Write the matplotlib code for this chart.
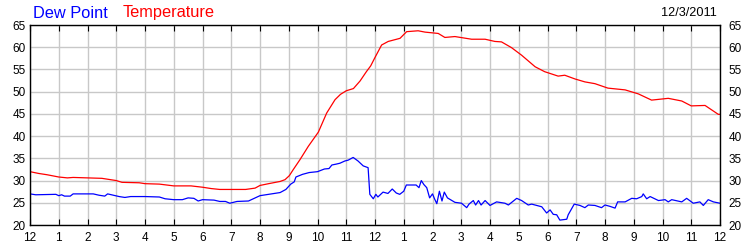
import matplotlib
matplotlib.use("Agg")
import matplotlib.pyplot as plt

plt.rcParams['font.family'] = ['Liberation Sans', 'DejaVu Sans']

# Temperature (hour of day, deg F)
temp_hours = [0, 0.3, 0.6, 1.0, 1.3, 1.5, 2.0, 2.5, 2.8, 3.0, 3.2, 3.8, 4.0, 4.5, 5.0, 5.6,
              6.0, 6.3, 6.6, 7.0, 7.5, 7.83, 8.0, 8.3, 8.7, 8.87, 9.02, 9.16, 9.39, 9.68,
              10.03, 10.32, 10.61, 10.8, 11.0, 11.25, 11.48, 11.7, 11.85, 12.0, 12.23,
              12.46, 12.87, 13.1, 13.5, 13.74, 14.2, 14.43, 14.78, 15.36, 15.83, 16.17,
              16.4, 16.75, 17.1, 17.57, 17.9, 18.37, 18.6, 18.96, 19.3, 19.65, 20.1, 20.7,
              21.16, 21.62, 22.2, 22.67, 23.0, 23.48, 23.71, 23.94, 24.0]
temp_values = [32.0, 31.6, 31.3, 30.8, 30.6, 30.7, 30.6, 30.5, 30.2, 30.0, 29.6, 29.5, 29.3,
               29.2, 28.8, 28.8, 28.5, 28.2, 28.0, 28.0, 28.0, 28.3, 28.9, 29.3, 29.8, 30.2,
               31.1, 32.5, 34.7, 37.7, 40.9, 45.2, 48.2, 49.4, 50.2, 50.7, 52.4, 54.5, 55.8,
               57.7, 60.5, 61.3, 62.0, 63.5, 63.7, 63.4, 63.1, 62.2, 62.4, 61.8, 61.8, 61.3,
               61.2, 59.9, 58.2, 55.6, 54.5, 53.5, 53.7, 52.85, 52.2, 51.8, 50.8, 50.4, 49.5,
               48.1, 48.5, 47.9, 46.8, 46.9, 45.9, 44.9, 44.9]

# Dew point (hour of day, deg F)
dew_hours = [0, 0.2, 0.9, 1.0, 1.1, 1.2, 1.4, 1.5, 2.0, 2.2, 2.4, 2.6, 2.7, 2.9, 3.1, 3.3,
             3.5, 4.0, 4.5, 4.7, 5.0, 5.3, 5.5, 5.7, 5.85, 6.0, 6.4, 6.6, 6.8, 6.95, 7.2,
             7.6, 7.83, 8.0, 8.4, 8.7, 8.9, 9.07, 9.19, 9.25, 9.48, 9.71, 10.0, 10.24,
             10.4, 10.5, 10.65, 10.78, 10.95, 11.07, 11.24, 11.41, 11.59, 11.76, 11.82,
             11.94, 12.03, 12.1, 12.28, 12.45, 12.6, 12.74, 12.86, 13.0, 13.09, 13.43,
             13.53, 13.61, 13.7, 13.8, 13.9, 14.0, 14.07, 14.15, 14.24, 14.33, 14.41,
             14.52, 14.78, 15.01, 15.19, 15.27, 15.42, 15.5, 15.6, 15.69, 15.83, 16.0,
             16.23, 16.52, 16.64, 16.93, 17.1, 17.33, 17.45, 17.57, 17.8, 17.97, 18.09,
             18.2, 18.32, 18.43, 18.67, 18.72, 18.93, 19.13, 19.3, 19.42, 19.65, 19.88,
             20.0, 20.17, 20.35, 20.44, 20.7, 20.93, 21.1, 21.28, 21.33, 21.45, 21.57,
             21.86, 22.09, 22.2, 22.32, 22.67, 22.84, 23.07, 23.3, 23.42, 23.59, 23.77, 24.0]
dew_values = [27.0, 26.8, 26.9, 26.6, 26.8, 26.5, 26.5, 27.0, 27.0, 27.0, 26.7, 26.5, 27.0,
              26.7, 26.4, 26.2, 26.4, 26.4, 26.3, 25.9, 25.7, 25.7, 26.1, 26.0, 25.4, 25.7,
              25.6, 25.3, 25.3, 24.9, 25.3, 25.4, 26.1, 26.6, 27.0, 27.3, 28.0, 29.2, 29.7,
              30.8, 31.4, 31.8, 32.0, 32.6, 32.7, 33.5, 33.7, 33.9, 34.4, 34.6, 35.2, 34.4,
              33.3, 32.9, 26.9, 25.9, 26.9, 26.3, 27.4, 27.1, 28.1, 27.2, 26.9, 27.6, 29.0,
              29.0, 28.4, 30.0, 29.1, 28.4, 26.1, 27.0, 25.9, 24.8, 27.6, 25.4, 27.4, 26.1,
              25.1, 24.9, 23.9, 24.7, 25.5, 24.5, 25.5, 24.5, 25.5, 24.4, 25.2, 24.9, 24.5,
              26.0, 25.5, 24.5, 24.7, 24.5, 24.1, 22.7, 23.4, 22.4, 22.3, 21.1, 21.3, 22.3,
              24.7, 24.4, 23.9, 24.5, 24.4, 23.9, 24.5, 24.2, 23.8, 25.2, 25.2, 26.0, 25.9,
              26.4, 27.0, 25.9, 26.4, 25.5, 25.7, 25.2, 25.7, 25.2, 26.0, 24.9, 25.2, 24.4,
              25.7, 25.2, 24.9]

x_ticks = list(range(25))
x_labels = ['12', '1', '2', '3', '4', '5', '6', '7', '8', '9', '10', '11',
            '12', '1', '2', '3', '4', '5', '6', '7', '8', '9', '10', '11', '12']
y_ticks = [20, 25, 30, 35, 40, 45, 50, 55, 60, 65]
date_label = '12/3/2011'

fig = plt.figure(figsize=(7.5, 2.5), dpi=100)
ax = fig.add_axes([30/750, 25/250, 690/750, 200/250])

ax.plot(temp_hours, temp_values, color='#ff0000', lw=0.9)
ax.plot(dew_hours, dew_values, color='#0000ff', lw=0.9)

ax.set_xlim(0, 24)
ax.set_ylim(20, 65)
ax.set_xticks(x_ticks)
ax.set_xticklabels(x_labels)
ax.set_yticks(y_ticks)
ax.grid(True, color='#c8c8c8', lw=1.0)
ax.set_axisbelow(True)
for s in ax.spines.values():
    s.set_color('black')
    s.set_linewidth(1.0)
ax.tick_params(axis='x', direction='in', length=4, width=0.8, top=True, bottom=True,
               labelsize=8.5, pad=5)
ax.tick_params(axis='y', direction='in', length=0, labelsize=8.5, pad=3)

ax2 = ax.twinx()
ax2.set_ylim(20, 65)
ax2.set_yticks(y_ticks)
ax2.tick_params(axis='y', direction='in', length=0, labelsize=8.5, pad=6)
for s in ax2.spines.values():
    s.set_visible(False)

fig.text(33/750, 1 - 13/250, 'Dew Point', color='#0000ff', fontsize=11.8, va='center', ha='left')
fig.text(123/750, 1 - 13/250, 'Temperature', color='#ff0000', fontsize=11.8, va='center', ha='left')
fig.text(717/750, 1 - 13/250, date_label, color='black', fontsize=9.2, va='center', ha='right')

fig.savefig('out.png', dpi=100)
